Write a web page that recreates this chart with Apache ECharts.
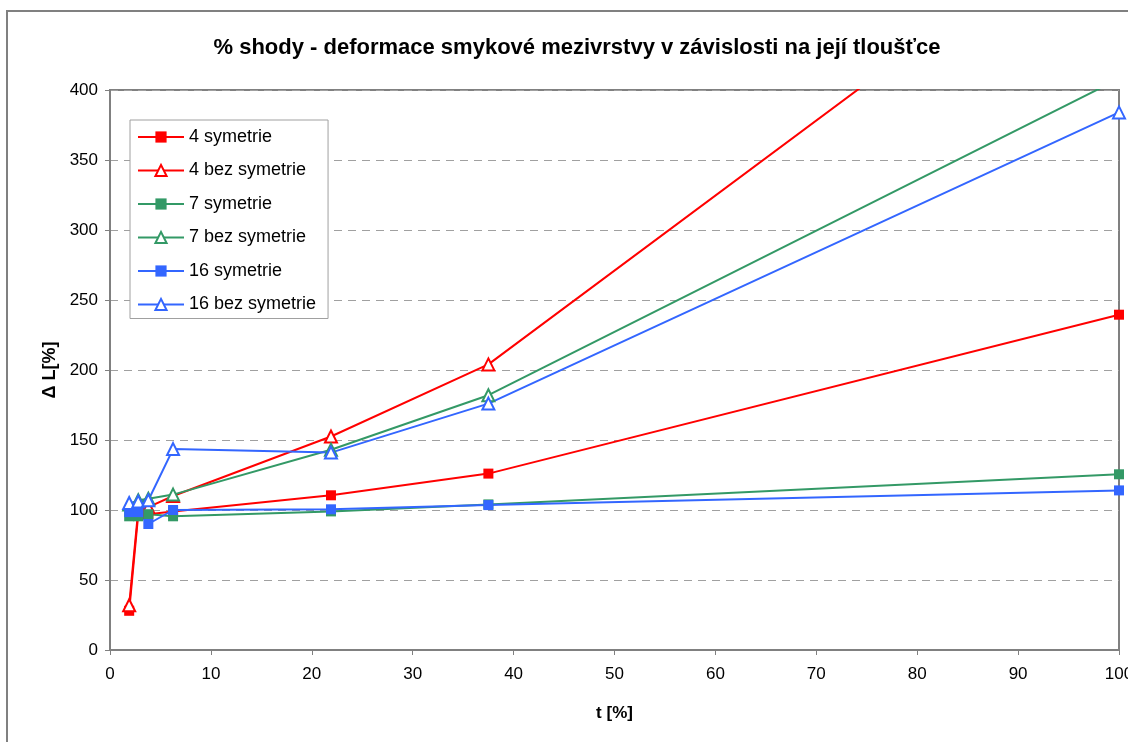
<!DOCTYPE html>
<html>
<head>
<meta charset="utf-8">
<script src="https://cdn.jsdelivr.net/npm/echarts@6/dist/echarts.min.js"></script>
<style>html,body{margin:0;padding:0;background:#fff}#c{width:1128px;height:742px}</style>
</head>
<body>
<div id="c"></div>
<script>
const tValues = [1.9, 2.8, 3.8, 6.25, 21.9, 37.5, 100];
const sym4 = [28, 97, 97, 99, 110.5, 126, 239.5];
const bez4 = [32, 100, 102, 110, 152.5, 204, 539];
const sym7 = [95.5, 95.5, 97, 95.5, 99, 104, 125.5];
const bez7 = [104, 107, 108, 111, 143, 182, 408];
const sym16 = [98.5, 98.5, 90, 100, 100.5, 103.5, 114];
const bez16 = [105, 106, 107, 143.5, 141, 176, 384];
const seriesNames = ['4 symetrie', '4 bez symetrie', '7 symetrie', '7 bez symetrie', '16 symetrie', '16 bez symetrie'];
const xTicks = [0, 10, 20, 30, 40, 50, 60, 70, 80, 90, 100];
const yTicks = [0, 50, 100, 150, 200, 250, 300, 350, 400];

const RED = '#FF0000', GREEN = '#339966', BLUE = '#3366FF';
const font = 'Liberation Sans, Arial, sans-serif';

function pairs(arr) { return tValues.map((t, i) => [t, arr[i]]); }
function mk(name, data, color, filled) {
  return {
    name: name, type: 'line', data: pairs(data), clip: true,
    symbol: filled ? 'rect' : 'triangle',
    symbolSize: filled ? 10 : 12,
    lineStyle: { color: color, width: 2 },
    itemStyle: { color: filled ? color : '#ffffff', borderColor: color, borderWidth: filled ? 0 : 2 },
    emphasis: { disabled: true },
    animation: false
  };
}

const chart = echarts.init(document.getElementById('c'), null, { renderer: 'canvas' });
chart.setOption({
  backgroundColor: '#ffffff',
  animation: false,
  title: {
    text: '% shody - deformace smykové mezivrstvy v závislosti na její tloušťce',
    left: 572, top: 32, textAlign: 'center',
    textStyle: { fontFamily: font, fontSize: 22, fontWeight: 'bold', color: '#000' }
  },
  graphic: [{
    type: 'rect', x: 7, y: 11, silent: true,
    shape: { x: 0, y: 0, width: 1200, height: 800 },
    style: { fill: 'none', stroke: '#808080', lineWidth: 2 }
  }],
  legend: {
    orient: 'vertical', left: 130, top: 120,
    padding: [8, 12, 5, 7],
    itemWidth: 46, itemHeight: 14, itemGap: 15.5,
    borderColor: '#a0a0a0', borderWidth: 1,
    backgroundColor: '#fff',
    textStyle: { fontFamily: font, fontSize: 18, color: '#000' },
    data: seriesNames
  },
  grid: {
    left: 110, right: 9, top: 90, bottom: 92,
    outerBoundsMode: 'none',
    show: true, borderColor: '#808080', borderWidth: 2, backgroundColor: 'transparent'
  },
  xAxis: {
    type: 'value', min: 0, max: 100, interval: 10,
    name: 't [%]', nameLocation: 'middle', nameGap: 55,
    nameTextStyle: { fontFamily: font, fontSize: 17, fontWeight: 'bold', color: '#000' },
    axisLine: { show: true, lineStyle: { color: '#808080', width: 2 } },
    axisTick: { show: true, length: 5, lineStyle: { color: '#808080' } },
    axisLabel: { fontFamily: font, fontSize: 17, color: '#000', margin: 16,
      formatter: v => xTicks.includes(v) ? String(v) : '' },
    splitLine: { show: false }
  },
  yAxis: {
    type: 'value', min: 0, max: 400, interval: 50,
    name: 'Δ L[%]', nameLocation: 'middle', nameGap: 51, nameRotate: 90,
    nameTextStyle: { fontFamily: font, fontSize: 18, fontWeight: 'bold', color: '#000' },
    axisLine: { show: true, lineStyle: { color: '#808080', width: 2 } },
    axisTick: { show: true, length: 5, lineStyle: { color: '#808080' } },
    axisLabel: { fontFamily: font, fontSize: 17, color: '#000', margin: 12,
      formatter: v => yTicks.includes(v) ? String(v) : '' },
    splitLine: { show: true, lineStyle: { color: '#a0a0a0', type: [8, 6], width: 1 } }
  },
  series: [
    mk(seriesNames[0], sym4, RED, true),
    mk(seriesNames[1], bez4, RED, false),
    mk(seriesNames[2], sym7, GREEN, true),
    mk(seriesNames[3], bez7, GREEN, false),
    mk(seriesNames[4], sym16, BLUE, true),
    mk(seriesNames[5], bez16, BLUE, false)
  ]
});
</script>
</body>
</html>
